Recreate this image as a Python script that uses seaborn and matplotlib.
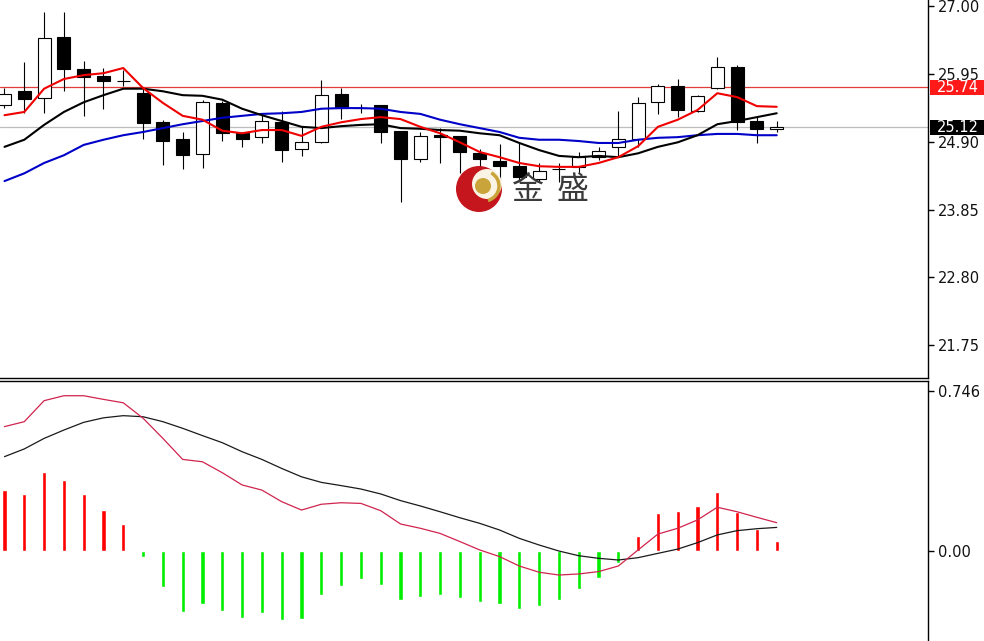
import numpy as np
import pandas as pd
import matplotlib
matplotlib.use("Agg")
import matplotlib.pyplot as plt
import matplotlib.transforms as mtransforms
from matplotlib.patches import Ellipse, Arc, Rectangle
import seaborn as sns

# ---------------- data ----------------
opens = [25.47, 25.68, 25.58, 26.52, 26.02, 25.92, 25.84, 25.65, 25.20, 24.94,
         24.71, 25.50, 25.03, 24.97, 25.20, 24.79, 24.89, 25.64, 25.42, 25.47,
         25.07, 24.63, 25.00, 24.99, 24.72, 24.60, 24.52, 24.32, 24.48, 24.51,
         24.66, 24.82, 24.94, 25.51, 25.76, 25.37, 25.73, 26.06, 25.22, 25.10]
highs = [25.73, 26.13, 26.91, 26.91, 26.15, 26.04, 26.01, 25.73, 25.24, 25.05,
         25.55, 25.53, 25.05, 25.31, 25.37, 25.14, 25.85, 25.73, 25.48, 25.47,
         25.07, 25.05, 25.11, 24.99, 24.79, 24.86, 24.89, 24.57, 24.57, 24.74,
         24.82, 25.37, 25.59, 25.79, 25.87, 25.62, 26.21, 26.09, 25.28, 25.22]
lows = [25.42, 25.34, 25.34, 25.68, 25.30, 25.41, 25.76, 24.94, 24.54, 24.48,
        24.49, 24.91, 24.82, 24.88, 24.58, 24.68, 24.88, 25.25, 25.34, 24.88,
        23.97, 24.58, 24.57, 24.41, 24.51, 24.31, 24.31, 24.28, 24.28, 24.41,
        24.62, 24.66, 24.82, 25.33, 25.28, 25.36, 25.72, 25.08, 24.88, 25.05]
closes = [25.64, 25.56, 26.51, 26.02, 25.90, 25.84, 25.84, 25.19, 24.91, 24.69,
          25.51, 25.03, 24.94, 25.22, 24.77, 24.89, 25.62, 25.42, 25.42, 25.05,
          24.63, 24.99, 24.97, 24.74, 24.63, 24.52, 24.35, 24.45, 24.48, 24.66,
          24.76, 24.94, 25.50, 25.76, 25.39, 25.61, 26.06, 25.20, 25.10, 25.12]

ma5 = [25.31, 25.36, 25.72, 25.87, 25.93, 25.96, 26.04, 25.73, 25.50, 25.30,
       25.24, 25.07, 25.03, 25.08, 25.08, 24.99, 25.13, 25.20, 25.25, 25.28,
       25.25, 25.13, 25.03, 24.89, 24.74, 24.66, 24.57, 24.52, 24.51, 24.51,
       24.57, 24.66, 24.83, 25.13, 25.24, 25.39, 25.65, 25.59, 25.45, 25.44]
ma10 = [24.82, 24.93, 25.16, 25.36, 25.51, 25.62, 25.72, 25.72, 25.68, 25.62,
        25.61, 25.55, 25.41, 25.31, 25.22, 25.13, 25.11, 25.14, 25.16, 25.17,
        25.11, 25.10, 25.08, 25.07, 25.03, 25.00, 24.88, 24.77, 24.68, 24.66,
        24.68, 24.66, 24.72, 24.82, 24.89, 25.00, 25.17, 25.22, 25.28, 25.34]
ma20 = [24.29, 24.41, 24.57, 24.69, 24.85, 24.93, 25.00, 25.05, 25.11, 25.17,
        25.22, 25.27, 25.30, 25.33, 25.34, 25.36, 25.41, 25.42, 25.42, 25.41,
        25.36, 25.33, 25.24, 25.17, 25.11, 25.05, 24.96, 24.93, 24.93, 24.91,
        24.88, 24.88, 24.93, 24.96, 24.97, 25.00, 25.02, 25.02, 25.00, 25.00]

dif = [0.580, 0.603, 0.701, 0.724, 0.724, 0.707, 0.691, 0.619, 0.525, 0.427,
       0.416, 0.365, 0.308, 0.284, 0.230, 0.191, 0.218, 0.225, 0.222, 0.188,
       0.126, 0.106, 0.082, 0.044, 0.005, -0.026, -0.070, -0.099, -0.112, -0.107,
       -0.096, -0.070, 0.005, 0.079, 0.106, 0.145, 0.204, 0.183, 0.157, 0.132]
dea = [0.440, 0.476, 0.525, 0.564, 0.600, 0.621, 0.631, 0.626, 0.603, 0.572,
       0.538, 0.505, 0.463, 0.427, 0.385, 0.346, 0.320, 0.305, 0.289, 0.266,
       0.235, 0.210, 0.183, 0.155, 0.129, 0.098, 0.059, 0.028, 0.000, -0.022,
       -0.034, -0.042, -0.031, -0.011, 0.009, 0.039, 0.075, 0.095, 0.104, 0.110]
macd_hist = [0.284, 0.266, 0.367, 0.330, 0.266, 0.191, 0.126, -0.026, -0.166, -0.286,
             -0.249, -0.281, -0.314, -0.291, -0.322, -0.319, -0.205, -0.162, -0.131, -0.159,
             -0.228, -0.216, -0.205, -0.221, -0.236, -0.247, -0.272, -0.256, -0.228, -0.177,
             -0.124, -0.057, 0.070, 0.176, 0.186, 0.210, 0.275, 0.183, 0.103, 0.048]

price_ticks = [27.00, 25.95, 24.90, 23.85, 22.80, 21.75]
macd_ticks = [0.746, 0.00]
macd_tick_labels = ["0.746", "0.00"]
resistance = 25.74
last_price = 25.12

df = pd.DataFrame({"idx": np.arange(len(opens)), "open": opens, "high": highs,
                   "low": lows, "close": closes, "ma5": ma5, "ma10": ma10,
                   "ma20": ma20, "dif": dif, "dea": dea, "hist": macd_hist})

# ---------------- figure ----------------
sns.set_style("white")
plt.rcParams['font.family'] = ['DejaVu Sans']

W, H = 984, 641
fig = plt.figure(figsize=(W / 100, H / 100), dpi=100)
ax = fig.add_axes([0, 1 - 378 / H, 928 / W, 378 / H])
ax2 = fig.add_axes([0, 0, 928 / W, 260.5 / H])

xlim = (-0.227, 46.64)

# candles
up = df["close"] >= df["open"]
dn = ~up
ax.vlines(df["idx"], df["low"], df["high"], color="black", lw=0.8, zorder=2)
ax.bar(df["idx"][up], (df["close"] - df["open"])[up], bottom=df["open"][up],
       width=0.66, color="white", edgecolor="black", lw=0.8, zorder=3)
ax.bar(df["idx"][dn], (df["close"] - df["open"])[dn], bottom=df["open"][dn],
       width=0.66, color="black", edgecolor="black", lw=0.8, zorder=3)

# moving averages
sns.lineplot(data=df, x="idx", y="ma20", color="#0000c8", lw=1.5, ax=ax, zorder=4)
sns.lineplot(data=df, x="idx", y="ma10", color="black", lw=1.5, ax=ax, zorder=4)
sns.lineplot(data=df, x="idx", y="ma5", color="#f00000", lw=1.5, ax=ax, zorder=5)

ax.axhline(resistance, color="#e23b3b", lw=0.9, zorder=1)
ax.axhline(last_price, color="#bdbdbd", lw=0.9, zorder=1)

ax.set_xlim(*xlim)
ax.set_ylim(21.242, 27.093)
ax.set_xlabel("")
ax.set_ylabel("")
ax.set_xticks([])
ax.yaxis.tick_right()
ax.set_yticks(price_ticks)
ax.set_yticklabels([f"{t:.2f}" for t in price_ticks])
ax.tick_params(axis="y", right=True, left=False, labelright=True, labelleft=False,
               direction="out", length=4, width=1, color="black",
               labelcolor="#111111", labelsize=10.5, pad=3)
for s in ["left", "top"]:
    ax.spines[s].set_visible(False)
for s in ["right", "bottom"]:
    ax.spines[s].set_color("black")
    ax.spines[s].set_linewidth(1)

# price tags on the right: coloured box to the figure edge, white text
trans = mtransforms.blended_transform_factory(ax.transAxes, ax.transData)
for val, col in [(resistance, "#ff1a1a"), (last_price, "black")]:
    tag_h = 15.5 / 64.6  # tag height in price units
    ax.add_patch(Rectangle((930 / 928, val - tag_h / 2), 60 / 928, tag_h,
                           transform=trans, fc=col, ec="none", clip_on=False,
                           zorder=5))
    ax.text(937 / 928, val, f"{val:.2f}", transform=trans, color="white",
            fontsize=10.5, va="center", ha="left", clip_on=False, zorder=6)

# ---------------- MACD panel ----------------
bar_colors = np.where(df["hist"] >= 0, "#ff0000", "#00ee00")
ax2.bar(df["idx"], df["hist"], width=0.22, color=bar_colors, zorder=2)
sns.lineplot(data=df, x="idx", y="dea", color="#1a1a1a", lw=0.9, ax=ax2, zorder=3)
sns.lineplot(data=df, x="idx", y="dif", color="#d0244e", lw=0.9, ax=ax2, zorder=3)

ax2.set_xlim(*xlim)
ax2.set_ylim(-0.4196, 0.795)
ax2.set_xlabel("")
ax2.set_ylabel("")
ax2.set_xticks([])
ax2.yaxis.tick_right()
ax2.set_yticks(macd_ticks)
ax2.set_yticklabels(macd_tick_labels)
ax2.tick_params(axis="y", right=True, left=False, labelright=True, labelleft=False,
                direction="out", length=4, width=1, color="black",
                labelcolor="#111111", labelsize=10.5, pad=3)
for s in ["left", "bottom"]:
    ax2.spines[s].set_visible(False)
for s in ["right", "top"]:
    ax2.spines[s].set_color("black")
    ax2.spines[s].set_linewidth(1)

# ---------------- watermark ----------------
def fpos(x, y):
    return (x / W, 1 - y / H)

fig.add_artist(Ellipse(fpos(479, 189), 46 / W, 46 / H, fc="#c4161c", ec="none",
                       transform=fig.transFigure, zorder=5))
fig.add_artist(Ellipse(fpos(487, 184), 30 / W, 30 / H, fc="#fbf4e4", ec="none",
                       transform=fig.transFigure, zorder=5))
fig.add_artist(Arc(fpos(484, 186), 30 / W, 30 / H, theta1=-80, theta2=70,
                   color="#c9a43a", lw=2.5, transform=fig.transFigure, zorder=5))
fig.add_artist(Ellipse(fpos(483, 186), 16 / W, 16 / H, fc="#c9a43a", ec="none",
                       transform=fig.transFigure, zorder=5))
for ch, cx in [("金", 528), ("盛", 573)]:
    fig.text(cx / W, 1 - 190 / H, ch, fontsize=23, color="#3a3a3a",
             family=["Noto Sans CJK SC", "DejaVu Sans"], ha="center", va="center",
             zorder=6)

fig.savefig("out.png", dpi=100, facecolor="white")
